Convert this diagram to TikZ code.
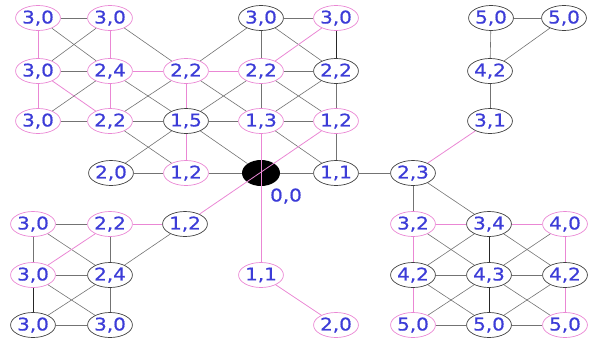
\documentclass[tikz,border=0pt]{standalone}
\usepackage{fontspec}
\setmainfont{DejaVu Sans}
\newfontfamily\nodefont[FakeStretch=1.14,FakeBold=0.6]{DejaVu Sans}
\usetikzlibrary{shapes.geometric}
\definecolor{pk}{RGB}{234,135,212}
\definecolor{gl}{RGB}{115,115,115}
\definecolor{tb}{RGB}{60,60,215}
\begin{document}
\begin{tikzpicture}[x=1pt,y=-1pt,
 nd/.style={ellipse,minimum width=39pt,minimum height=25pt,inner sep=0pt,font=\nodefont\fontsize{17.5}{17.5}\selectfont,text=tb,line width=0.7pt},
 pn/.style={nd,draw=pk},
 bn/.style={nd,draw=black!75},
 ge/.style={draw=gl,line width=0.6pt},
 pe/.style={draw=pk,line width=0.8pt},
 de/.style={draw=black!85,line width=0.7pt}]
\useasboundingbox (0,0) rectangle (589,343);
% top-left grid
\node[pn] (a1) at (38,18) {3,0};
\node[pn] (a2) at (110,18) {3,0};
\node[pn] (a3) at (38,71) {3,0};
\node[pn] (a4) at (110,71) {2,4};
\node[pn] (a5) at (186,71) {2,2};
\node[pn] (a6) at (38,121) {3,0};
\node[pn] (a7) at (110,121) {2,2};
\node[bn] (a8) at (186,121) {1,5};
\node[bn] (a9) at (111,173) {2,0};
\node[pn] (a10) at (186,173) {1,2};
% top middle
\node[bn] (b1) at (261,18) {3,0};
\node[pn] (b2) at (336,18) {3,0};
\node[pn] (b3) at (261,71) {2,2};
\node[bn] (b4) at (336,71) {2,2};
\node[pn] (b5) at (261,121) {1,3};
\node[pn] (b6) at (336,121) {1,2};
\node[bn] (b7) at (336,173) {1,1};
\node[bn] (b8) at (413,173) {2,3};
% top right
\node[bn] (c1) at (491,18) {5,0};
\node[bn] (c2) at (564,18) {5,0};
\node[bn] (c3) at (490,71) {4,2};
\node[bn] (c4) at (490,121) {3,1};
% lower left
\node[pn] (d1) at (33,224) {3,0};
\node[pn] (d2) at (110,224) {2,2};
\node[bn] (d3) at (185,224) {1,2};
\node[pn] (d4) at (33,275) {3,0};
\node[bn] (d5) at (110,275) {2,4};
\node[bn] (d6) at (33,325) {3,0};
\node[bn] (d7) at (110,325) {3,0};
% lower middle
\node[pn] (e1) at (261,275) {1,1};
\node[pn] (e2) at (336,325) {2,0};
% lower right
\node[pn] (f1) at (413,224) {3,2};
\node[bn] (f2) at (489,224) {3,4};
\node[pn] (f3) at (565,224) {4,0};
\node[bn] (f4) at (413,275) {4,2};
\node[bn] (f5) at (489,275) {4,3};
\node[bn] (f6) at (565,275) {4,2};
\node[pn] (f7) at (413,325) {5,0};
\node[bn] (f8) at (489,325) {5,0};
\node[pn] (f9) at (565,325) {5,0};
% center
\node[ellipse,fill=black,minimum width=38pt,minimum height=26pt,inner sep=0pt] (o) at (261,173) {};
\node[font=\nodefont\fontsize{17.5}{17.5}\selectfont,text=tb,inner sep=0pt] (ol) at (286,196) {0,0};
% edges top-left
\draw[ge] (a1) -- (a2);
\draw[pe] (a1) -- (a3);
\draw[ge] (a1) -- (a4);
\draw[ge] (a2) -- (a3);
\draw[pe] (a2) -- (a4);
\draw[ge] (a2) -- (a5);
\draw[ge] (a3) -- (a4);
\draw[pe] (a3) -- (a6);
\draw[pe] (a3) -- (a7);
\draw[ge] (a4) -- (a6);
\draw[pe] (a4) -- (a5);
\draw[pe] (a4) -- (a7);
\draw[ge] (a4) -- (a8);
\draw[ge] (a5) -- (a7);
\draw[pe] (a5) -- (a8);
\draw[ge] (a6) -- (a7);
\draw[ge] (a7) -- (a8);
\draw[ge] (a7) -- (a10);
\draw[ge] (a8) -- (a9);
\draw[pe] (a8) -- (a10);
\draw[ge] (a9) -- (a10);
\draw[ge] (a8) -- (o);
\draw[ge] (a10) -- (o);
\draw[ge] (a5) -- (b5);
\draw[ge] (a8) -- (b3);
\draw[ge] (a8) -- (b5);
\draw[pe] (a5) -- (b3);
\draw[ge] (a5) -- (b1);
% top middle
\draw[ge] (b1) -- (b2);
\draw[ge] (b1) -- (b3);
\draw[ge] (b1) -- (b4);
\draw[pe] (b2) -- (b3);
\draw[de] (b2) -- (b4);
\draw[ge] (b3) -- (b4);
\draw[ge] (b3) -- (b6);
\draw[ge] (b4) -- (b5);
\draw[ge] (b3) -- (b5);
\draw[ge] (b4) -- (b6);
\draw[ge] (b5) -- (b6);
\draw[ge] (b5) -- (b7);
\draw[ge] (b6) -- (b7);
\draw[ge] (o) -- (b7);
\draw[ge] (b7) -- (b8);
\draw[pe] (b8) -- (c4);
\draw[ge] (b8) -- (f1);
\draw[ge] (b8) -- (f2);
% top right
\draw[ge] (c1) -- (c2);
\draw[ge] (c1) -- (c3);
\draw[ge] (c2) -- (c3);
\draw[ge] (c3) -- (c4);
% through center
\draw[pe] (b5.south) -- (e1.north);
\draw[pe] (b6) -- (d3);
\draw[pe] (e1) -- (e2);
% lower left
\draw[ge] (d1) -- (d2);
\draw[pe] (d2) -- (d3);
\draw[ge] (d1) -- (d4);
\draw[ge] (d1) -- (d5);
\draw[pe] (d2) -- (d4);
\draw[ge] (d2) -- (d5);
\draw[ge] (d3) -- (d5);
\draw[ge] (d4) -- (d5);
\draw[de] (d4) -- (d6);
\draw[ge] (d4) -- (d7);
\draw[ge] (d5) -- (d6);
\draw[ge] (d5) -- (d7);
\draw[ge] (d6) -- (d7);
% lower right
\draw[pe] (f1) -- (f2);
\draw[pe] (f2) -- (f3);
\draw[pe] (f1) -- (f4);
\draw[ge] (f1) -- (f5);
\draw[ge] (f2) -- (f4);
\draw[de] (f2) -- (f5);
\draw[ge] (f2) -- (f6);
\draw[ge] (f3) -- (f5);
\draw[pe] (f3) -- (f6);
\draw[ge] (f4) -- (f5);
\draw[ge] (f5) -- (f6);
\draw[pe] (f4) -- (f7);
\draw[ge] (f4) -- (f8);
\draw[ge] (f5) -- (f7);
\draw[de] (f5) -- (f8);
\draw[ge] (f5) -- (f9);
\draw[ge] (f6) -- (f8);
\draw[pe] (f6) -- (f9);
\draw[ge] (f7) -- (f8);
\draw[ge] (f8) -- (f9);
\end{tikzpicture}
\end{document}
